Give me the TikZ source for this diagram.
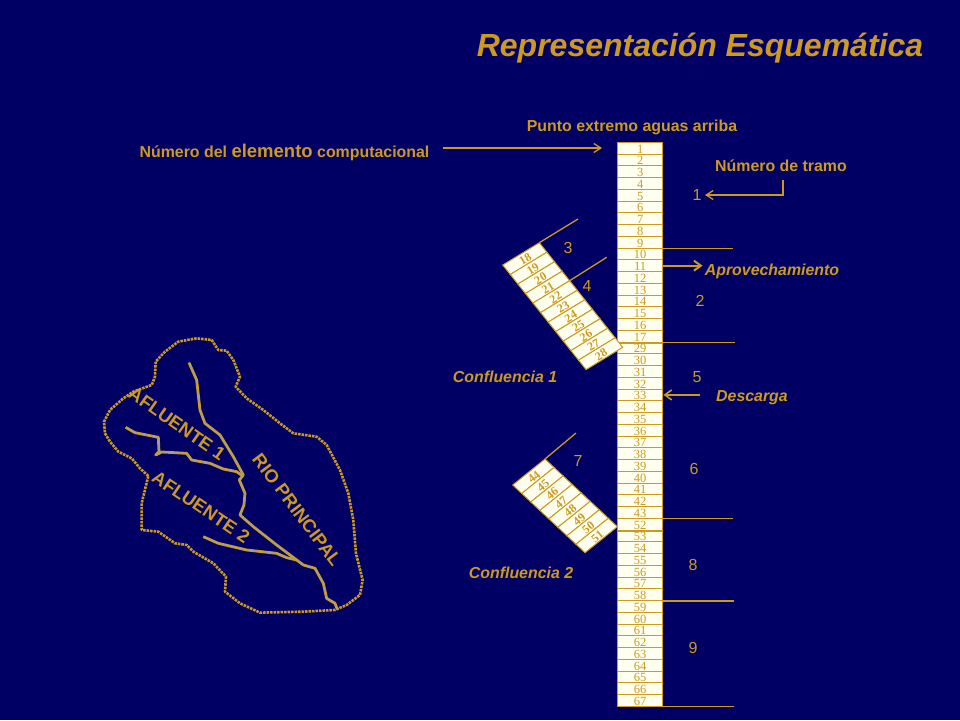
\documentclass[tikz,border=0pt]{standalone}
\usepackage{fontspec}
\setmainfont{Liberation Sans}
\newfontfamily\numfont{Liberation Serif}
\usetikzlibrary{arrows.meta}
\definecolor{fondo}{HTML}{000064}
\definecolor{oro}{HTML}{CC9A1E}
\definecolor{marfil}{HTML}{FFFFF0}
\definecolor{gris}{HTML}{A8A08A}
\tikzset{
  cell/.style={draw=oro,fill=marfil,line width=1pt,inner sep=0pt,text=oro,text height=10pt,text depth=0pt,font=\numfont\fontsize{12.5}{12.5}\selectfont},
  ramacell/.style={cell,draw=none,fill=none,font=\numfont\bfseries\fontsize{12}{12}\selectfont},
  rama/.style={draw=oro,fill=marfil,line width=1pt},
  txt/.style={text=oro,inner sep=0pt,font=\bfseries\fontsize{15.9}{16}\selectfont},
  txti/.style={txt,font=\bfseries\itshape\fontsize{15.9}{16}\selectfont},
  tramo/.style={text=oro,inner sep=0pt,font=\fontsize{16}{16}\selectfont},
  cuenca/.style={txt,font=\bfseries\fontsize{18.3}{18.3}\selectfont},
  linea/.style={draw=oro,line width=1.3pt},
  flecha/.style={linea,-{Straight Barb[length=7pt,width=9pt]}},
  rio/.style={draw=oro,double=gris,line width=0.9pt,double distance=1pt,line join=round},
  borde/.style={draw=oro,line width=2.6pt,dash pattern=on 2.5pt off 1pt,line join=round}
}
\begin{document}
\begin{tikzpicture}[x=1pt,y=-1pt]
  \useasboundingbox (0,0) rectangle (960,720);
  \fill[fondo] (0,0) rectangle (960,720);

  \node[txti,font=\bfseries\itshape\fontsize{32}{32}\selectfont] (titulo) at (700,48) {Representación Esquemática};

  % main column
  \foreach \i in {1,...,48} {
    \pgfmathtruncatemacro\n{\i+(\i>17)*11+(\i>32)*8}
    \node[cell,minimum width=45.5pt,minimum height=11.75pt] (c\n) at (640.2,136.4+11.75*\i) {\n};
  }
  \draw[oro,line width=2pt] (c17.south west) -- (c17.south east);
  \draw[oro,line width=2pt] (c52.south west) -- (c52.south east);

  % first branch
  \begin{scope}[shift={(502.7,265)},x={(36.6pt,22.3pt)},y={(7.58pt,-9.51pt)}]
    \foreach \n [count=\i from 0] in {18,...,28} {
      \draw[rama] (0,\i) -- (1,\i) -- (1,\i+1) -- (0,\i+1) -- cycle;
      \node[ramacell,rotate=31] (a\n) at (0.5,\i+0.5) {\n};
    }
    \coordinate (aTop) at (1,0);
    \coordinate (aMid) at (1,4);
  \end{scope}

  % second branch
  \begin{scope}[shift={(512.7,485)},x={(32.3pt,26pt)},y={(9.04pt,-8.46pt)}]
    \foreach \n [count=\i from 0] in {44,...,51} {
      \draw[rama] (0,\i) -- (1,\i) -- (1,\i+1) -- (0,\i+1) -- cycle;
      \node[ramacell,rotate=40] (b\n) at (0.5,\i+0.5) {\n};
    }
    \coordinate (bTop) at (1,0);
  \end{scope}

  % labels
  \node[txt] (punto) at (632,127) {Punto extremo aguas arriba};
  \node[txt] (elem) at (284.5,152) {Número del {\fontsize{18.5}{18.5}\selectfont elemento} computacional};
  \node[txt] (numtramo) at (781,166) {Número de tramo};
  \node[txti] (aprov) at (772,271) {Aprovechamiento};
  \node[txti] (desc) at (752,398) {Descarga};
  \node[txti] (conf1) at (505,377) {Confluencia 1};
  \node[txti] (conf2) at (521,573) {Confluencia 2};

  \foreach \name/\x/\y in {1/697/195,2/700/301,3/568/248,4/587/286,5/697/377,6/694/469,7/578/461,8/693/565,9/693/648}
    \node[tramo] (t\name) at (\x,\y) {\name};

  % connectors
  \coordinate (elemfin) at (443,148);
  \coordinate (elemtip) at (602,148);
  \draw[flecha] (elemfin) -- (elemtip);
  \coordinate (numfin) at (783,180);
  \draw[flecha] (numfin) -- (783,195) -- (t1.east -| 705,195);
  \foreach \name/\x in {c9/733,c17/735,c43/733,c58/734,c67/734} {
    \coordinate (\name fin) at (\x,0);
    \draw[linea] (\name.south east) -- (\name.south east -| \name fin);
  }
  \draw[oro,line width=2pt,shorten >=2pt,-{Straight Barb[length=7pt,width=10pt]}] (c11.east) -- (aprov.west |- c11.east);
  \draw[oro,line width=1.5pt,-{Straight Barb[length=7pt,width=10pt]}] (desc.west |- c33.east) ++(-16,0) coordinate (descfin) -- (c33.east);
  \coordinate (aTopFin) at (578,219);
  \coordinate (aMidFin) at (606.7,257.3);
  \coordinate (bTopFin) at (576,433);
  \draw[linea] (aTop) -- (aTopFin);
  \draw[linea] (aMid) -- (aMidFin);
  \draw[linea] (bTop) -- (bTopFin);

  % basin
  \begin{scope}[shift={(90,320)},x=0.3333pt,y=-0.3333pt]
    \draw[borde] (175,468) -- (150,445) -- (125,415) -- (85,395) -- (60,365) -- (45,340) -- (42,305) -- (60,270)
      -- (100,235) -- (130,215) -- (185,195) -- (195,170) -- (197,125) -- (225,95) -- (265,65) -- (320,55)
      -- (365,60) -- (385,90) -- (410,92) -- (430,120) -- (450,170) -- (437,200) -- (470,235) -- (520,270)
      -- (570,310) -- (610,340) -- (680,350) -- (710,375) -- (750,450) -- (775,520) -- (790,600) -- (798,700)
      -- (818,780) -- (810,825) -- (770,855) -- (735,870) -- (640,875) -- (510,878) -- (450,850) -- (405,815)
      -- (408,770) -- (370,730) -- (310,695) -- (290,675) -- (255,670) -- (205,635) -- (155,630) -- (155,550) -- cycle;
    \draw[rio] (297,128) -- (320,180) -- (330,270) -- (345,310) -- (390,345) -- (430,410) -- (460,465) -- (448,480)
      -- (465,520) -- (462,555) -- (450,585) -- (490,620) -- (560,675) -- (620,720) -- (640,735) -- (675,745)
      -- (700,790) -- (710,835) -- (735,850) -- (742,868);
    \draw[rio] (107,322) -- (135,338) -- (205,352) -- (207,395) -- (197,405) -- (215,396) -- (290,400) -- (305,420)
      -- (360,430) -- (400,447) -- (440,455) -- (458,468);
    \draw[rio] (340,650) -- (385,670) -- (470,690) -- (560,700) -- (590,713) -- (620,720);
  \end{scope}
  \node[cuenca,rotate=-35] (afl1) at (177,424) {AFLUENTE 1};
  \node[cuenca,rotate=-34] (afl2) at (201,507) {AFLUENTE 2};
  \node[cuenca,rotate=-53] (rio) at (297,510) {RIO PRINCIPAL};
\end{tikzpicture}
\end{document}
